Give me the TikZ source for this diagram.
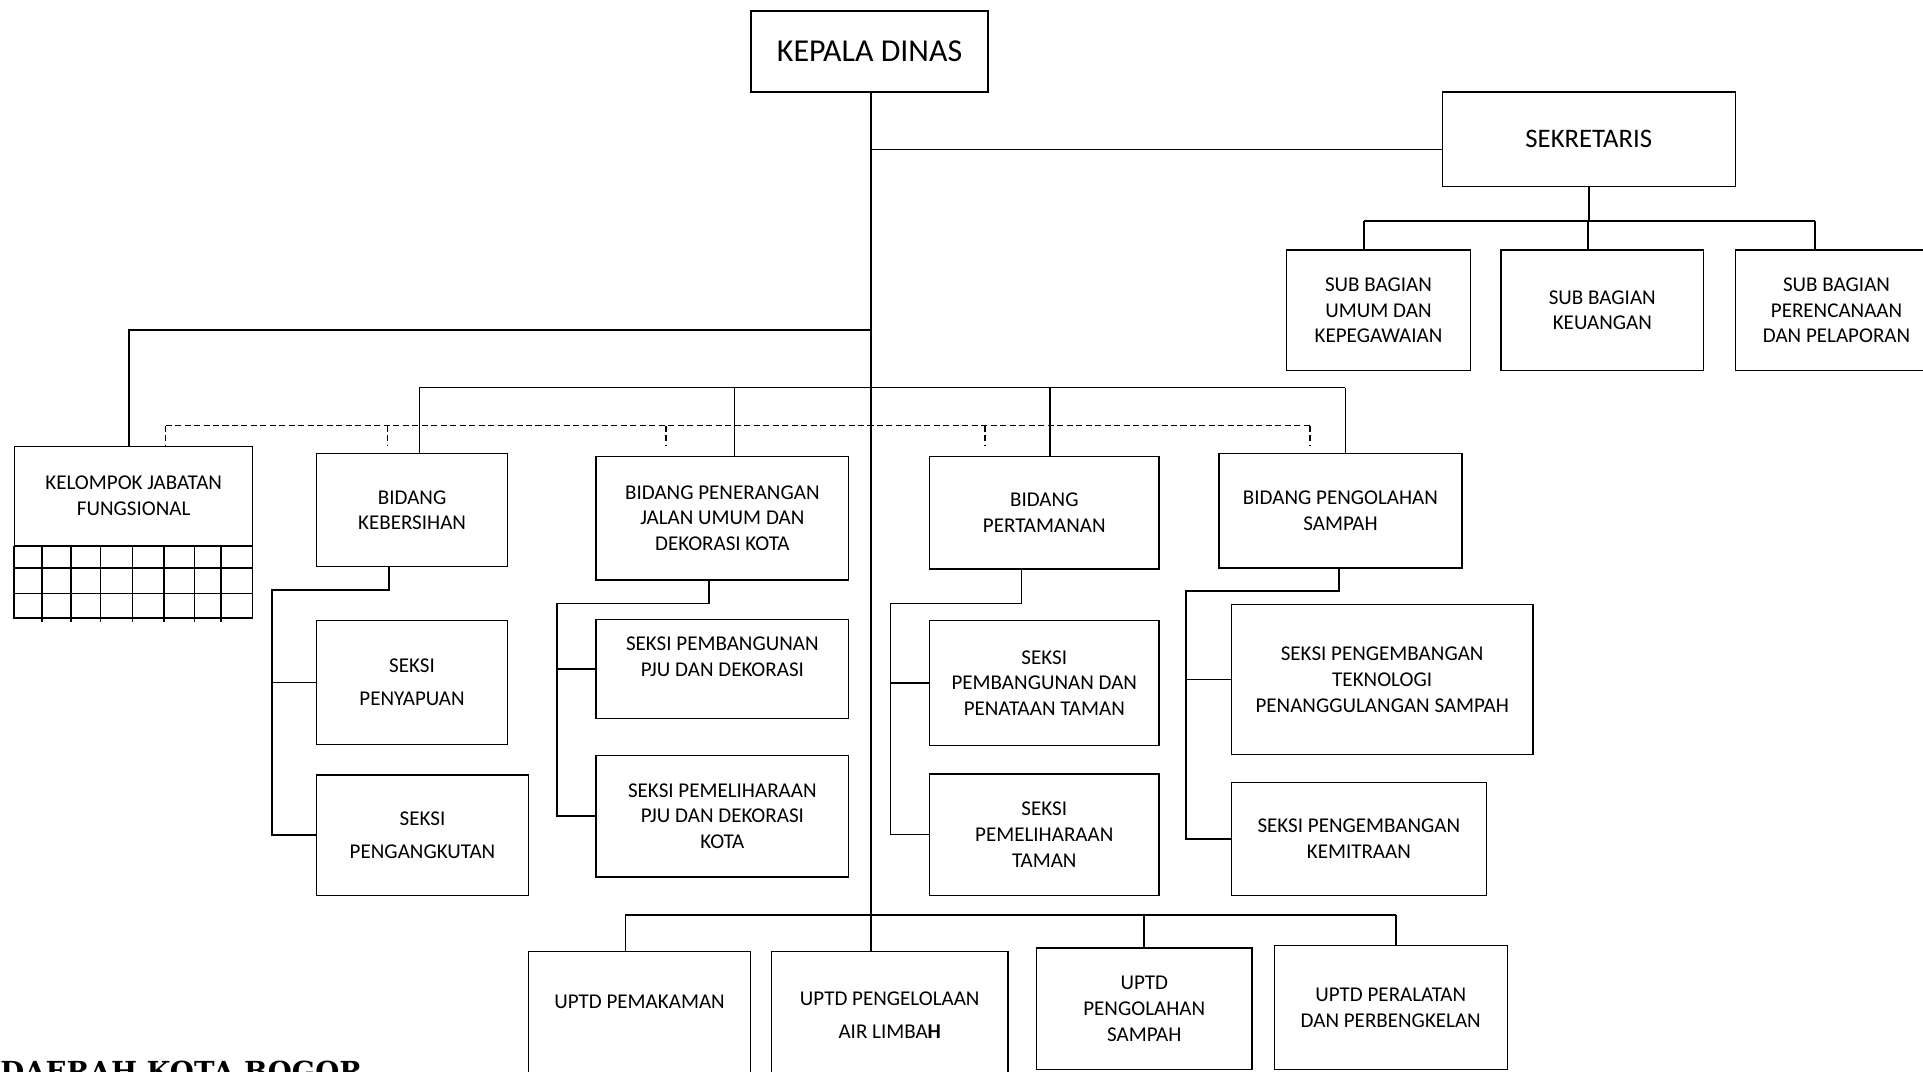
\documentclass[tikz,border=0pt]{standalone}
\usepackage{fontspec}
\setmainfont{Carlito}
\newfontfamily\judul{DejaVu Serif}
\usetikzlibrary{calc}
\newdimen\upx \upx=0.025cm
\tikzset{
	kotak/.style={draw, line width=0.8pt, align=center, inner sep=2pt, font=\fontsize{12.2}{15}\selectfont},
	ukuran/.style 2 args={minimum width=#1\upx, minimum height=#2\upx},
	garis/.style={line width=1pt},
	putus/.style={line width=0.9pt, dash pattern=on 3.5pt off 2pt}
}
\begin{document}
\begin{tikzpicture}[x=0.025cm, y=-0.025cm]
	\useasboundingbox (0,0) rectangle (1568,874);
	\clip (0,0) rectangle (1568,874);
	\coordinate (pusat) at (710,0);
	% pimpinan dan sekretariat
	\node[kotak, ukuran={193}{66}, font=\fontsize{18.5}{22}\selectfont] (kepala) at (709,42) {KEPALA DINAS};
	\node[kotak, ukuran={239}{77}, font=\fontsize{15.5}{19}\selectfont] (sekretaris) at (1295.5,113.5) {SEKRETARIS};
	\node[kotak, ukuran={150}{98}] (subumum) at (1124,253) {SUB BAGIAN\\UMUM DAN\\KEPEGAWAIAN};
	\node[kotak, ukuran={165}{98}] (subkeu) at (1306.5,253) {SUB BAGIAN\\KEUANGAN};
	\node[kotak, ukuran={165}{98}] (subren) at (1497.5,253) {SUB BAGIAN\\PERENCANAAN\\DAN PELAPORAN};
	% bidang
	\node[kotak, ukuran={194}{81}] (kelompok) at (109,404.5) {KELOMPOK JABATAN\\FUNGSIONAL};
	\node[kotak, ukuran={156}{92}] (kebersihan) at (336,416) {BIDANG\\KEBERSIHAN};
	\node[kotak, ukuran={206}{101}] (pju) at (589,422.5) {BIDANG PENERANGAN\\JALAN UMUM DAN\\DEKORASI KOTA};
	\node[kotak, ukuran={187}{92}] (taman) at (851.5,418) {BIDANG\\PERTAMANAN};
	\node[kotak, ukuran={198}{93}] (sampah) at (1093,416.5) {BIDANG PENGOLAHAN\\SAMPAH};
	% seksi
	\node[kotak, ukuran={156}{101}] (penyapuan) at (336,556.5) {SEKSI\\[4pt]PENYAPUAN};
	\node[kotak, ukuran={173}{98}] (pengangkutan) at (344.5,681) {SEKSI\\[4pt]PENGANGKUTAN};
	\node[kotak, ukuran={206}{81}, text height=23pt, text depth=14pt] (pembpju) at (589,545.5) {SEKSI PEMBANGUNAN\\PJU DAN DEKORASI};
	\node[kotak, ukuran={206}{99}] (pemelpju) at (589,665.5) {SEKSI PEMELIHARAAN\\PJU DAN DEKORASI\\KOTA};
	\node[kotak, ukuran={187}{102}] (pembtaman) at (851.5,557) {SEKSI\\PEMBANGUNAN DAN\\PENATAAN TAMAN};
	\node[kotak, ukuran={187}{99}] (pemeltaman) at (851.5,680.5) {SEKSI\\PEMELIHARAAN\\TAMAN};
	\node[kotak, ukuran={246}{122}] (teknologi) at (1127,554) {SEKSI PENGEMBANGAN\\TEKNOLOGI\\PENANGGULANGAN SAMPAH};
	\node[kotak, ukuran={208}{92}] (kemitraan) at (1108,684) {SEKSI PENGEMBANGAN\\KEMITRAAN};
	% uptd
	\node[kotak, ukuran={181}{104}, text height=8pt, text depth=16.4pt] (pemakaman) at (521.5,828) {UPTD PEMAKAMAN};
	\node[kotak, ukuran={193}{104}] (pengelolaan) at (725.5,828) {UPTD PENGELOLAAN\\[4pt]AIR LIMBA\textbf{H}};
	\node[kotak, ukuran={176}{99}] (pengolahan) at (933,822.5) {UPTD\\PENGOLAHAN\\SAMPAH};
	\node[kotak, ukuran={190}{101}] (peralatan) at (1134,821.5) {UPTD PERALATAN\\DAN PERBENGKELAN};
	\node[anchor=base west, inner sep=0pt, font=\judul\fontsize{16}{19}\selectfont\bfseries] (daerah) at (0,882) {DAERAH KOTA BOGOR};
	% kotak kecil di bawah kelompok jabatan fungsional
	\draw[line width=0.8pt] (kelompok.south west) rectangle (206,504);
	\foreach \y in {463,484}
		\draw[line width=0.8pt] (12,\y) -- (206,\y);
	\foreach \x in {34,57.6,82,108,134,158.5,180}
		\draw[garis] (\x,445) -- (\x,507);
	% garis komando
	\draw[garis] (kepala.south -| pusat) -- (pusat |- pengelolaan.north);
	\draw[garis] (pusat |- 0,122) -- (sekretaris.west |- 0,122);
	\draw[garis] (sekretaris.south) -- ++(0,28);
	\draw[garis] (1112,180) -- (1480,180);
	\foreach \x/\n in {1112/subumum, 1295/subkeu, 1480/subren}
		\draw[garis] (\x,180) -- (\x,180 |- \n.north);
	\draw[garis] (pusat |- 0,269) -| (kelompok.north -| 105,0);
	\draw[garis] (342,316) -- (1097,316);
	\foreach \x/\n in {342/kebersihan, 599/pju, 856/taman, 1097/sampah}
		\draw[garis] (\x,316) -- (\x,316 |- \n.north);
	% garis koordinasi
	\draw[putus] (135,347) -- (1068,347);
	\foreach \x/\n/\s in {135/kelompok/0, 316/kebersihan/6, 543/pju/8, 803/taman/8, 1068/sampah/6}
		\draw[putus, shorten >=\s\upx] (\x,347) -- (\x,347 |- \n.north);
	% bidang ke seksi
	\foreach \bid/\x/\y/\kiri/\satu/\dua in {kebersihan/317/481/222/penyapuan/pengangkutan, pju/578/492/454/pembpju/pemelpju, taman/833/492/726/pembtaman/pemeltaman, sampah/1092/482/967/teknologi/kemitraan}
	{
		\draw[garis] (\bid.south -| \x,0) |- (\kiri,\y) |- (\dua.west);
		\draw[garis] (\satu.west) -- (\satu.west -| \kiri,0);
	}
	% uptd
	\draw[garis] (510,746) -- (1138,746);
	\foreach \x/\n in {510/pemakaman, 933/pengolahan, 1138/peralatan}
		\draw[garis] (\x,746) -- (\x,746 |- \n.north);
\end{tikzpicture}
\end{document}
